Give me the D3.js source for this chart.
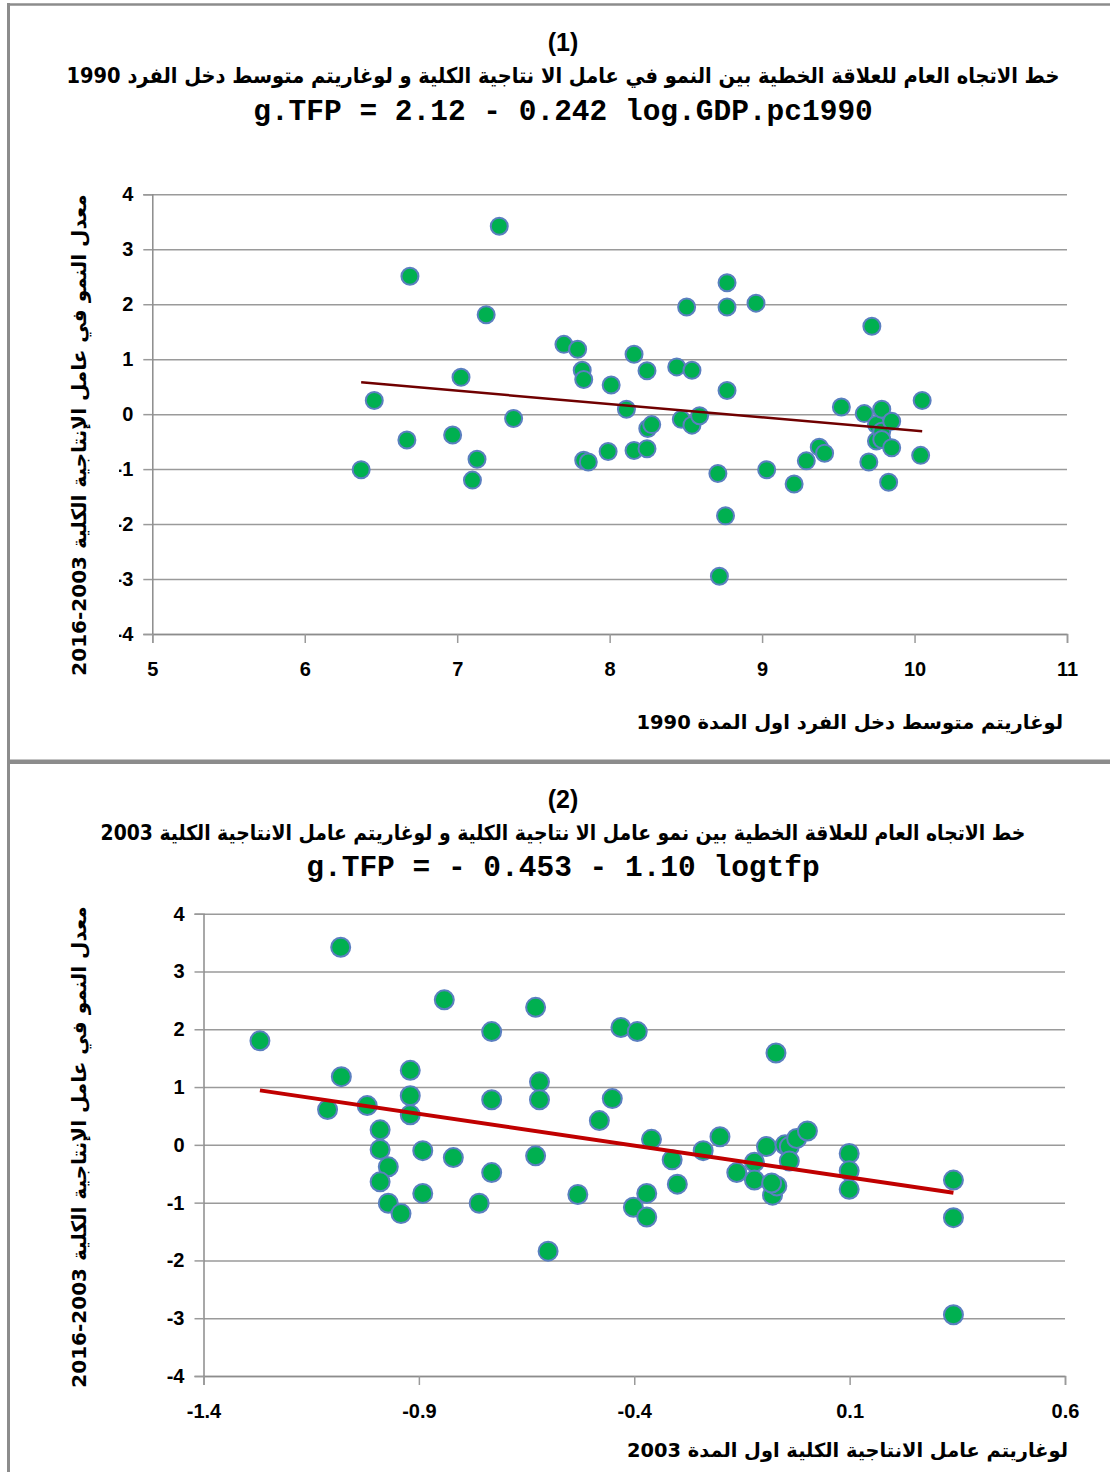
<!DOCTYPE html>
<html>
<head>
<meta charset="utf-8">
<script src="https://cdn.jsdelivr.net/npm/d3@7"></script>
<style>
  body { margin: 0; background: #fff; }
  svg text { font-family: "Liberation Sans", Arial, sans-serif; }
</style>
</head>
<body>
<div id="chart"></div>
<script>
// ---- data ----
const growthTicks = [-4, -3, -2, -1, 0, 1, 2, 3, 4];
const gdpTicks = [5, 6, 7, 8, 9, 10, 11];
const tfpTicks = [-1.4, -0.9, -0.4, 0.1, 0.6];

// [log GDP pc 1990, TFP growth 2003-2016]
const gdpPoints = [
  [6.37, -1.01], [6.456, 0.25], [6.67, -0.47], [6.69, 2.51], [6.97, -0.38],
  [7.025, 0.67], [7.10, -1.20], [7.13, -0.82], [7.19, 1.81], [7.276, 3.42],
  [7.37, -0.08], [7.70, 1.27], [7.79, 1.18], [7.82, 0.80], [7.83, 0.63],
  [7.83, -0.84], [7.86, -0.87], [7.99, -0.68], [8.01, 0.53], [8.11, 0.09],
  [8.16, 1.09], [8.16, -0.66], [8.245, 0.79], [8.245, -0.63], [8.25, -0.26],
  [8.276, -0.19], [8.44, 0.86], [8.47, -0.095], [8.505, 1.95], [8.54, 0.80],
  [8.54, -0.20], [8.59, -0.03], [8.71, -1.08], [8.72, -2.95], [8.76, -1.85],
  [8.77, 2.39], [8.77, 1.95], [8.77, 0.43], [8.96, 2.02], [9.03, -1.01],
  [9.21, -1.27], [9.29, -0.85], [9.375, -0.60], [9.41, -0.71], [9.52, 0.13],
  [9.67, 0.01], [9.70, -0.87], [9.72, 1.60], [9.75, -0.19], [9.75, -0.49],
  [9.785, 0.09], [9.785, -0.31], [9.785, -0.46], [9.83, -1.24], [9.85, -0.13],
  [9.85, -0.61], [10.04, -0.75], [10.05, 0.25]
];

// [log TFP 2003, TFP growth 2003-2016]
const tfpPoints = [
  [-1.269, 1.80], [-1.0815, 3.42], [-1.08, 1.18], [-1.112, 0.61], [-1.02, 0.68],
  [-0.99, 0.26], [-0.99, -0.08], [-0.971, -0.38], [-0.99, -0.64], [-0.971, -1.01],
  [-0.9415, -1.19], [-0.92, 1.29], [-0.92, 0.85], [-0.92, 0.52], [-0.891, -0.10],
  [-0.891, -0.84], [-0.841, 2.51], [-0.82, -0.22], [-0.731, 1.96], [-0.731, 0.78],
  [-0.731, -0.48], [-0.76, -1.01], [-0.629, 2.38], [-0.62, 1.09], [-0.62, 0.78],
  [-0.629, -0.19], [-0.60, -1.84], [-0.531, -0.86], [-0.481, 0.42], [-0.451, 0.80],
  [-0.431, 2.03], [-0.393, 1.96], [-0.402, -1.08], [-0.371, -0.84], [-0.371, -1.25],
  [-0.36, 0.095], [-0.312, -0.26], [-0.30, -0.68], [-0.24, -0.10], [-0.201, 0.14],
  [-0.162, -0.48], [-0.121, -0.30], [-0.121, -0.61], [-0.093, -0.03], [-0.079, -0.87],
  [-0.069, -0.71], [-0.081, -0.66], [-0.071, 1.59], [-0.05, 0.00], [-0.04, -0.03],
  [-0.04, -0.28], [-0.023, 0.11], [0.002, 0.24], [0.099, -0.15], [0.099, -0.45],
  [0.099, -0.77], [0.341, -0.61], [0.341, -1.26], [0.341, -2.94]
];

// trend lines: [intercept, slope]
const gdpFit = [2.12, -0.242];
const tfpFit = [-0.453, -1.10];

// texts
const gdpTitle = "خط الاتجاه العام للعلاقة الخطية بين النمو في عامل الا نتاجية الكلية  و لوغاريتم متوسط دخل الفرد 1990";
const tfpTitle = "خط الاتجاه العام للعلاقة الخطية بين نمو عامل الا نتاجية الكلية  و لوغاريتم عامل الانتاجية الكلية 2003";
const gdpEquation = "g.TFP = 2.12 - 0.242 log.GDP.pc1990";
const tfpEquation = "g.TFP = - 0.453 - 1.10 logtfp";
const yTitle = "معدل النمو في عامل الإنتاجية الكلية  \u20662016-2003\u2069";
const gdpXTitle = "لوغاريتم متوسط دخل الفرد اول المدة  1990";
const tfpXTitle = "لوغاريتم عامل الانتاجية الكلية اول المدة 2003";

const W = 1110, H = 1472;
const svg = d3.select("#chart").append("svg")
  .attr("width", W).attr("height", H);

// frame lines
svg.append("line").attr("x1", 8).attr("x2", W).attr("y1", 4.5).attr("y2", 4.5)
  .attr("stroke", "#8c8c8c").attr("stroke-width", 2.5);
svg.append("line").attr("x1", 8.5).attr("x2", 8.5).attr("y1", 3).attr("y2", H)
  .attr("stroke", "#8c8c8c").attr("stroke-width", 3);
svg.append("line").attr("x1", 8).attr("x2", W).attr("y1", 761.7).attr("y2", 761.7)
  .attr("stroke", "#8c8c8c").attr("stroke-width", 4.5);

// hyphen minus like the original, not U+2212
const hyphen = f => d => f(d).replace("\u2212", "-");

function drawPanel(o) {
  const x = d3.scaleLinear().domain(o.xDomain).range([o.left, o.right]);
  const y = d3.scaleLinear().domain([-4, 4]).range([o.bottom, o.top]);
  const g = svg.append("g");

  // horizontal gridlines
  g.append("g")
    .attr("transform", `translate(${o.left},0)`)
    .call(d3.axisLeft(y).tickValues(growthTicks).tickSize(-(o.right - o.left)).tickFormat(""))
    .call(s => s.select(".domain").remove())
    .call(s => s.selectAll("line").attr("stroke", "#9a9a9a").attr("stroke-width", 1.5));

  // y tick labels (drawn before the title so the title box can cover them like in Excel)
  const yAx = g.append("g")
    .attr("transform", `translate(${o.left},0)`)
    .call(d3.axisLeft(y).tickValues(growthTicks).tickSize(9).tickPadding(o.yPad).tickFormat(hyphen(d3.format("d"))));
  yAx.select(".domain").attr("stroke", "#8c8c8c").attr("stroke-width", 1.5);
  yAx.selectAll("line").attr("stroke", "#9a9a9a").attr("stroke-width", 1.5);
  yAx.selectAll("text").attr("fill", "#000").style("font-size", "20px").style("font-weight", "bold");

  // x axis
  const xAx = g.append("g")
    .attr("transform", `translate(0,${o.bottom})`)
    .call(d3.axisBottom(x).tickValues(o.xTicks).tickSize(9).tickPadding(19).tickFormat(hyphen(o.xFormat)));
  xAx.select(".domain").attr("stroke", "#8c8c8c").attr("stroke-width", 1.5);
  xAx.selectAll("line").attr("stroke", "#9a9a9a").attr("stroke-width", 1.5);
  xAx.selectAll("text").attr("fill", "#000").style("font-size", "20px").style("font-weight", "bold");

  // points
  g.append("g").selectAll("circle").data(o.points).enter().append("circle")
    .attr("cx", d => x(d[0]))
    .attr("cy", d => y(d[1]))
    .attr("r", o.r)
    .attr("fill", "#00b050")
    .attr("stroke", "#5b7fc0")
    .attr("stroke-width", 2);

  // trend line over the data range
  const ext = d3.extent(o.points, d => d[0]);
  g.append("path")
    .datum(ext.map(v => [v, o.fit[0] + o.fit[1] * v]))
    .attr("d", d3.line().x(d => x(d[0])).y(d => y(d[1])))
    .attr("fill", "none")
    .attr("stroke", o.lineColor)
    .attr("stroke-width", o.lineWidth);

  // y title (rotated), with a white box like the Excel title
  const yt = g.append("g").attr("transform", `translate(${o.yTitleX},${o.yTitleY}) rotate(-90)`);
  if (o.yBox) {
    yt.append("rect").attr("x", -250).attr("y", -22).attr("width", 500).attr("height", o.yBox).attr("fill", "#fff");
  }
  yt.append("text")
    .attr("direction", "rtl")
    .attr("text-anchor", "middle")
    .attr("dy", "0.35em")
    .style("font-family", "'DejaVu Sans', sans-serif")
    .style("font-size", o.yTitleSize + "px")
    .style("font-weight", "bold")
    .text(yTitle);

  // titles
  g.append("text")
    .attr("x", o.cx).attr("y", o.titleY - 32)
    .attr("text-anchor", "middle")
    .style("font-family", "'Liberation Sans Narrow', 'Liberation Sans', sans-serif")
    .style("font-size", "25px").style("font-weight", "bold")
    .text(o.label);
  g.append("text")
    .attr("x", o.cx).attr("y", o.titleY)
    .attr("direction", "rtl")
    .attr("text-anchor", "middle")
    .style("font-family", "'DejaVu Sans Condensed', 'DejaVu Sans', sans-serif")
    .style("font-size", o.titleSize + "px")
    .style("font-weight", "bold")
    .text(o.title);
  g.append("text")
    .attr("x", o.cx).attr("y", o.titleY + o.eqDy)
    .attr("text-anchor", "middle")
    .style("font-family", "'Liberation Mono', 'Courier New', monospace")
    .style("font-size", "29.5px")
    .style("font-weight", "bold")
    .attr("xml:space", "preserve")
    .text(o.equation);

  // x title, right aligned
  g.append("text")
    .attr("x", o.xTitleRight).attr("y", o.xTitleY)
    .attr("direction", "rtl")
    .attr("text-anchor", "start")
    .style("font-family", "'DejaVu Sans', sans-serif")
    .style("font-size", o.xTitleSize + "px")
    .style("font-weight", "bold")
    .text(o.xTitle);
}

drawPanel({
  xDomain: [5, 11], xTicks: gdpTicks, xFormat: d3.format("d"),
  left: 152.3, right: 1067, top: 194.3, bottom: 634,
  points: gdpPoints, fit: gdpFit, r: 8.5,
  lineColor: "#700000", lineWidth: 2.5,
  yPad: 10, yTitleX: 79, yTitleY: 435, yTitleSize: 20, yBox: 62,
  cx: 563, titleY: 83, titleSize: 21.6, eqDy: 37, label: "(1)",
  title: gdpTitle, equation: gdpEquation,
  xTitle: gdpXTitle, xTitleRight: 1063, xTitleY: 729, xTitleSize: 19.5
});

drawPanel({
  xDomain: [-1.4, 0.6], xTicks: tfpTicks, xFormat: d3.format(".1f"),
  left: 203.5, right: 1065, top: 913.7, bottom: 1376,
  points: tfpPoints, fit: tfpFit, r: 9.5,
  lineColor: "#c00000", lineWidth: 4,
  yPad: 10, yTitleX: 79, yTitleY: 1147, yTitleSize: 20, yBox: 0,
  cx: 563, titleY: 840, titleSize: 20.9, eqDy: 36, label: "(2)",
  title: tfpTitle, equation: tfpEquation,
  xTitle: tfpXTitle, xTitleRight: 1068, xTitleY: 1457, xTitleSize: 19.4
});
</script>
</body>
</html>
